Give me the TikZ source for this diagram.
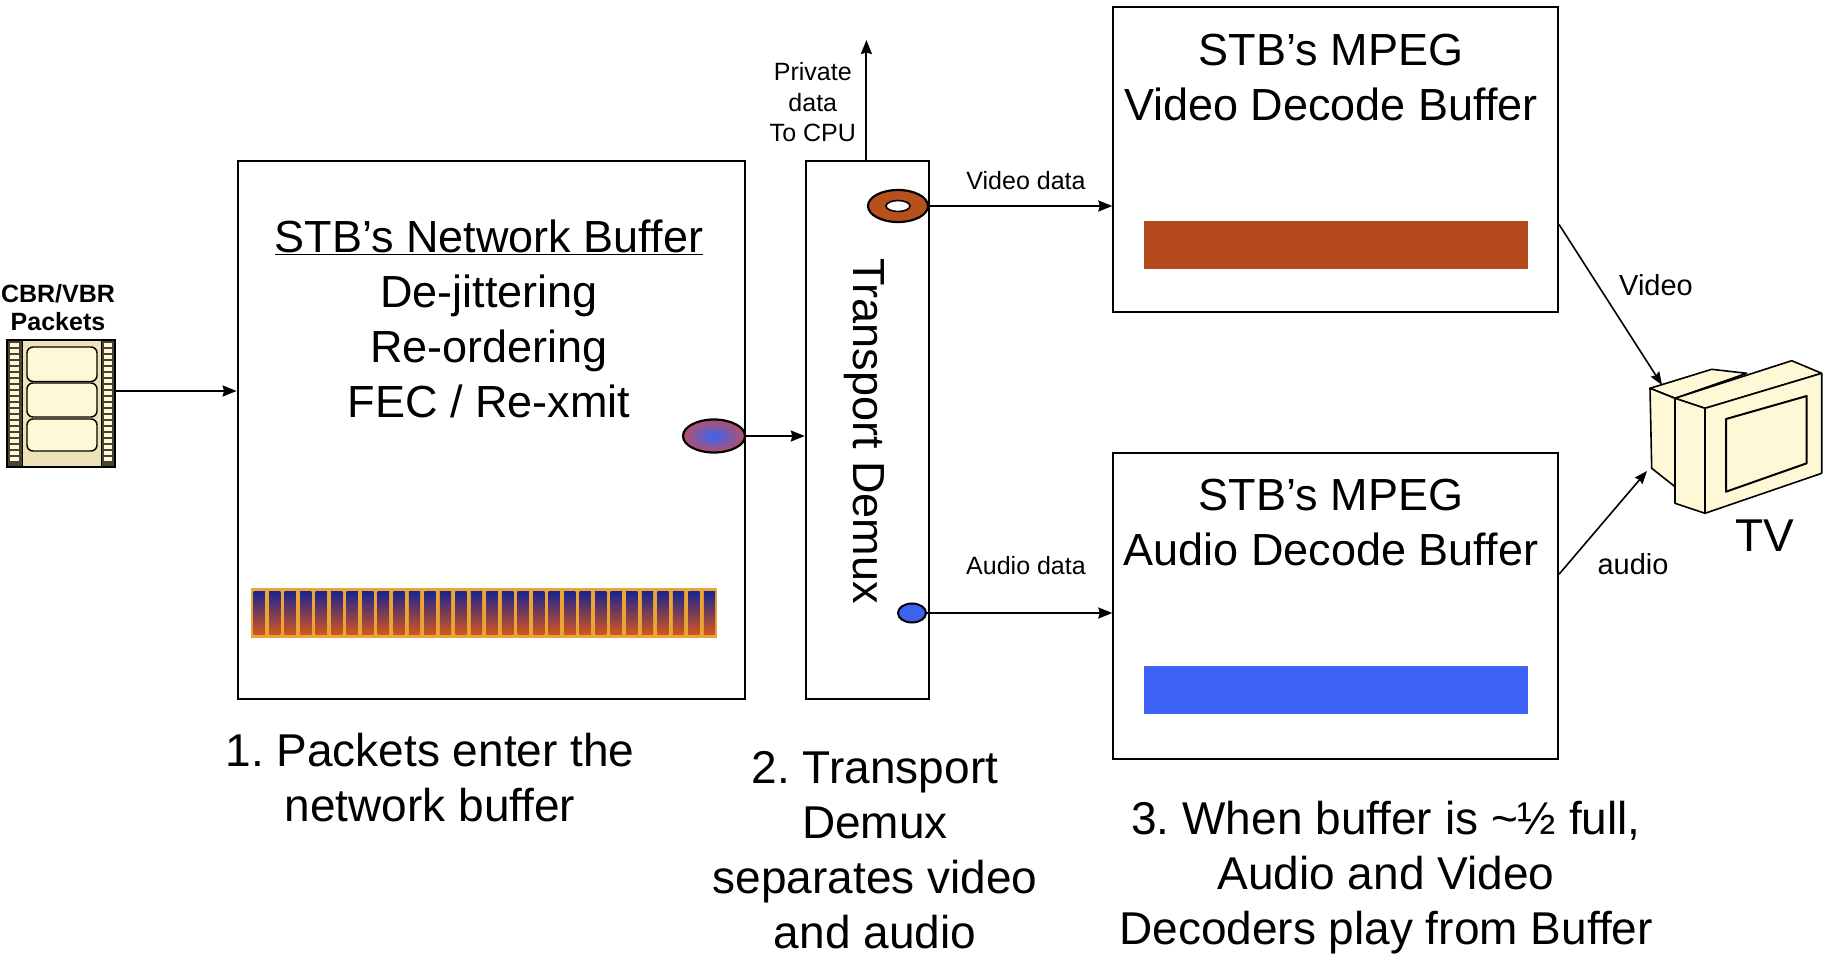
\documentclass[tikz,border=0pt]{standalone}
\usepackage{fontspec}
\setmainfont{Liberation Sans}
\usetikzlibrary{shapes.geometric,arrows.meta}
\frenchspacing
\definecolor{cream}{HTML}{FFF8D6}
\definecolor{filmdark}{HTML}{4A4232}
\definecolor{filmtan}{HTML}{EDE2B8}
\definecolor{vidbar}{HTML}{B4491C}
\definecolor{audbar}{HTML}{3F63F4}
\definecolor{barorange}{HTML}{EAA534}
\definecolor{cellblue}{HTML}{1A2590}
\definecolor{cellpurple}{HTML}{7A3C90}
\definecolor{cellred}{HTML}{D4561E}
\definecolor{pktblue}{HTML}{3C64F0}
\definecolor{pktred}{HTML}{B4506A}
\definecolor{ringbrown}{HTML}{B8501C}
\begin{document}
\begin{tikzpicture}[x=1pt,y=-1pt,
  box/.style={draw=black,line width=2pt,inner sep=0pt,anchor=center},
  arr/.style={line width=2pt,-{Stealth[length=14pt,width=11pt,inset=1.5pt]}},
  thinarr/.style={line width=1.6pt,-{Stealth[length=13pt,width=10pt,inset=1.5pt]}},
  bigtxt/.style={font=\fontsize{45}{55}\selectfont,align=center,inner sep=0pt},
  captxt/.style={font=\fontsize{46}{55}\selectfont,align=center,inner sep=0pt},
  smalltxt/.style={font=\fontsize{25}{30.5}\selectfont,align=center,inner sep=0pt},
  midtxt/.style={font=\fontsize{29}{34}\selectfont,inner sep=0pt},
  tvpart/.style={fill=cream,draw=black,line width=1.6pt,line join=round}
]
\useasboundingbox (0,0) rectangle (1826,958);

% ---------- boxes ----------
\node[box,minimum width=507.7pt,minimum height=538pt] (net) at (491.45,429.7) {};
\node[box,minimum width=123.5pt,minimum height=538pt] (demux) at (867.55,429.7) {};
\node[box,minimum width=444.8pt,minimum height=305.1pt] (vbuf) at (1335.7,159.55) {};
\node[box,minimum width=444.8pt,minimum height=306.3pt] (abuf) at (1335.7,606.15) {};

% ---------- film strip ----------
\node[inner sep=0pt,minimum width=108pt,minimum height=127pt] (film) at (61,403.5) {};
\fill[filmdark] (7,340) rectangle (115,467);
\fill[filmtan] (22,340) rectangle (101,467);
\draw[line width=1pt] (22,340) -- (22,467) (101,340) -- (101,467);
\foreach \yy in {343,349,...,461} {
  \fill[cream] (10,\yy) rectangle (19,\yy+3.5);
  \fill[cream] (104,\yy) rectangle (112,\yy+3.5);
}
\foreach \ya/\yb in {347/381.5,383/417,419/451} {
  \draw[fill=cream,line width=1.4pt,rounded corners=6pt] (27,\ya) rectangle (97,\yb);
}
\draw[line width=1.4pt] (7,340) rectangle (115,467);
\node[font=\bfseries\fontsize{25}{28}\selectfont,align=center,inner sep=0pt] (cbr) at (58,308) {CBR/VBR\\Packets};

% ---------- network buffer contents ----------
\node[bigtxt] (nettxt) at (489,319) {\underline{STB's Network Buffer}\\De-jittering\\Re-ordering\\FEC / Re-xmit};
\fill[barorange] (251,588) rectangle (717,638);
\foreach \i in {0,...,29} {
  \shade[top color=cellblue,middle color=cellpurple,bottom color=cellred]
    ({253.5+\i*15.53},591.5) rectangle ({264.8+\i*15.53},634.5);
}
\node[ellipse,draw=black,line width=2.2pt,minimum width=62pt,minimum height=33pt,inner sep=0pt,
      inner color=pktblue,outer color=pktred] (pkt) at (714,436) {};

% ---------- transport demux ----------
\node[bigtxt,rotate=-90] (dmxtxt) at (864,431) {Transport Demux};
\node[ellipse,draw=black,line width=2.2pt,minimum width=60pt,minimum height=32pt,inner sep=0pt,
      fill=ringbrown] (vring) at (898,206) {};
\draw[fill=white,line width=1.6pt] (vring.center) ellipse (12 and 5.5);
\node[ellipse,draw=black,line width=2pt,minimum width=28pt,minimum height=19pt,inner sep=0pt,
      fill=pktblue] (adot) at (912,613) {};
\coordinate (cpu) at (866.4,40);
\node[smalltxt] (cputxt) at (812.8,102.5) {Private\\data\\To CPU};

% ---------- decode buffers ----------
\node[bigtxt] (vtxt) at (1331,78) {STB's MPEG\\Video Decode Buffer};
\fill[vidbar] (1143.5,221.3) rectangle (1527.8,269);
\node[bigtxt] (atxt) at (1331,523) {STB's MPEG\\Audio Decode Buffer};
\fill[audbar] (1143.5,666) rectangle (1527.8,713.8);

% ---------- TV ----------
\draw[tvpart] (1650,388.3) -- (1711.7,369.3) -- (1746.7,373.3) -- (1675,398.3) -- cycle;
\draw[tvpart] (1650,388.3) -- (1675,398.3) -- (1675,486.7) -- (1651.7,468.3) -- cycle;
\draw[tvpart] (1675,398.3) -- (1791.7,360.7) -- (1821.7,373.3) -- (1705,408.3) -- cycle;
\draw[tvpart] (1675,398.3) -- (1705,408.3) -- (1705,513.3) -- (1675,503.3) -- cycle;
\draw[tvpart] (1705,408.3) -- (1821.7,373.3) -- (1821.7,473.3) -- (1705,513.3) -- cycle;
\draw[tvpart,line width=2pt] (1726,419) -- (1806.7,396) -- (1806.7,463.3) -- (1726,491.7) -- cycle;
\node[font=\fontsize{46}{50}\selectfont,inner sep=0pt] (tvtxt) at (1765,536) {TV};
\coordinate (tvv) at (1662,385);
\coordinate (tva) at (1647,471);

% ---------- connectors ----------
\coordinate (inrow) at (0,391);
\draw[arr] (film.east |- inrow) -- (net.west |- inrow);
\draw[arr] (pkt.east) -- (pkt.east -| demux.west);
\draw[arr] (demux.north -| cpu) -- (cpu);
\draw[arr] (vring.east) -- (vring.east -| vbuf.west);
\draw[arr] (adot.east) -- (adot.east -| abuf.west);
\node[smalltxt] (vdl) at (1026,180.5) {Video data};
\node[smalltxt] (adl) at (1026,566) {Audio data};
\draw[thinarr] ([yshift=-65pt]vbuf.east) -- (tvv);
\draw[thinarr] ([yshift=32pt]abuf.east) -- (tva);
\node[midtxt] (vlab) at (1656,285.5) {Video};
\node[midtxt] (alab) at (1633,564) {audio};

% ---------- step captions ----------
\node[captxt] (cap1) at (430,778) {1. Packets enter the\\network buffer};
\node[captxt] (cap2) at (875,850) {2. Transport\\Demux\\separates video\\and audio};
\node[captxt] (cap3) at (1386,878) {3. When buffer is \textasciitilde½ full,\\Audio and Video\\Decoders play from Buffer};
\end{tikzpicture}
\end{document}
